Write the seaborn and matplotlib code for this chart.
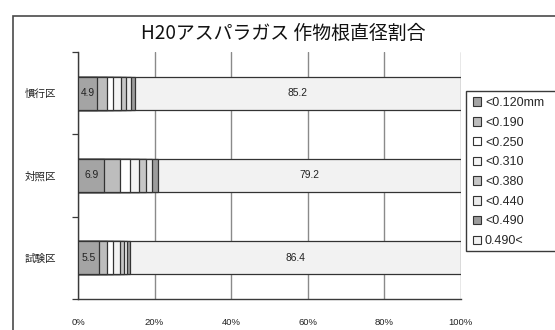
import matplotlib
matplotlib.use("Agg")
import matplotlib.pyplot as plt
from matplotlib.patches import Rectangle
from matplotlib.ticker import FixedLocator, PercentFormatter
import seaborn as sns
import pandas as pd
import numpy as np

# Plot categories (top to bottom)
plots = ["慣行区", "対照区", "試験区"]

# Root diameter classes
classes = ["<0.120mm", "<0.190", "<0.250", "<0.310", "<0.380", "<0.440", "<0.490", "0.490<"]

# Share (%) of each diameter class per plot
share_kanko = [4.9, 2.8, 1.4, 2.1, 1.3, 1.3, 1.0, 85.2]
share_taisho = [6.9, 4.1, 2.6, 2.3, 1.9, 1.5, 1.5, 79.2]
share_shiken = [5.5, 2.2, 1.5, 1.9, 0.8, 0.8, 0.9, 86.4]

class_colors = ["#a4a4a4", "#bdbdbd", "#ffffff", "#f3f3f3",
                "#c6c6c6", "#ebebeb", "#9c9c9c", "#f2f2f2"]

sns.set_theme(style="white")
plt.rcParams["font.family"] = ["Noto Sans CJK JP", "DejaVu Sans"]

shares = np.array([share_kanko, share_taisho, share_shiken])
cum = shares.cumsum(axis=1)

W, H = 555, 330
fig = plt.figure(figsize=(W / 100, H / 100), dpi=100)
ax = fig.add_axes([78 / W, 1 - 299 / H, (460.7 - 78) / W, (299 - 52) / H])

# Stacked bars: draw cumulative totals from the widest down so each class shows
for k in range(len(classes) - 1, -1, -1):
    df = pd.DataFrame({"plot": plots, "cum": cum[:, k]})
    sns.barplot(data=df, x="cum", y="plot", order=plots, orient="h",
                color=class_colors[k], saturation=1, width=0.4,
                edgecolor="#333333", linewidth=0.9, ax=ax, zorder=3,
                label=classes[k])
handles, labels = ax.get_legend_handles_labels()
if ax.get_legend() is not None:
    ax.get_legend().remove()

# Value labels for the first and last class
for i in range(len(plots)):
    first = shares[i, 0]
    last = shares[i, -1]
    ax.text(first / 2, i, f"{first:.1f}", ha="center", va="center",
            fontsize=7.4, color="#222222", family="Liberation Sans", zorder=5)
    ax.text(cum[i, -2] + last / 2, i, f"{last:.1f}", ha="center", va="center",
            fontsize=7.4, color="#222222", family="Liberation Sans", zorder=5)

ax.set_xlim(0, 100)
ax.set_ylim(2.5, -0.5)
ax.xaxis.set_major_locator(FixedLocator([0, 20, 40, 60, 80, 100]))
ax.xaxis.set_major_formatter(PercentFormatter(decimals=0))
ax.grid(axis="x", color="#8a8a8a", linewidth=1.0, zorder=0)
ax.set_axisbelow(True)
ax.set_xlabel("")
ax.set_ylabel("")

for side in ["top", "right"]:
    ax.spines[side].set_visible(False)
for side in ["left", "bottom"]:
    ax.spines[side].set_color("#3a3a3a")
    ax.spines[side].set_linewidth(1.0)

ax.tick_params(axis="x", length=0, pad=14, labelsize=6.8, labelcolor="#222222")
ax.tick_params(axis="y", length=0, pad=16, labelsize=7.6, labelcolor="#222222")
for lab in ax.get_xticklabels():
    lab.set_family("Liberation Sans")

# Category separator ticks on the left axis
ax.set_yticks([-0.5, 0.5, 1.5, 2.5], minor=True)
ax.tick_params(axis="y", which="minor", length=4, width=0.9, color="#3a3a3a",
               direction="out", left=True)

# Legend in class order, with its box running off the right edge
order = [labels.index(c) for c in classes]
leg = fig.legend([handles[j] for j in order], [labels[j] for j in order],
                 loc="upper left", bbox_to_anchor=(468 / W, 1 - 92 / H),
                 frameon=False, handlelength=0.65, handleheight=0.65,
                 handletextpad=0.3, labelspacing=0.62, borderpad=0.4,
                 borderaxespad=0,
                 prop={"family": "Liberation Sans", "size": 9})
for h in leg.legend_handles:
    h.set_linewidth(0.8)
fig.add_artist(Rectangle((466 / W, 1 - 251 / H), 200 / W, 160 / H,
                         transform=fig.transFigure, fill=True, facecolor="white",
                         edgecolor="#3a3a3a", linewidth=1.0, zorder=1))
leg.set_zorder(2)

fig.suptitle("H20アスパラガス 作物根直径割合", x=283 / W, y=1 - 33 / H,
             va="center", fontsize=13.6, color="#111111")

# Chart area border (right and bottom edges fall outside the image)
y_top = 1 - 16 / H
fig.add_artist(Rectangle((13 / W, -0.2), 1.2, y_top + 0.2,
                         transform=fig.transFigure, fill=False,
                         edgecolor="#4a4a4a", linewidth=1.2))

fig.savefig("out.png", dpi=100, facecolor="white")
